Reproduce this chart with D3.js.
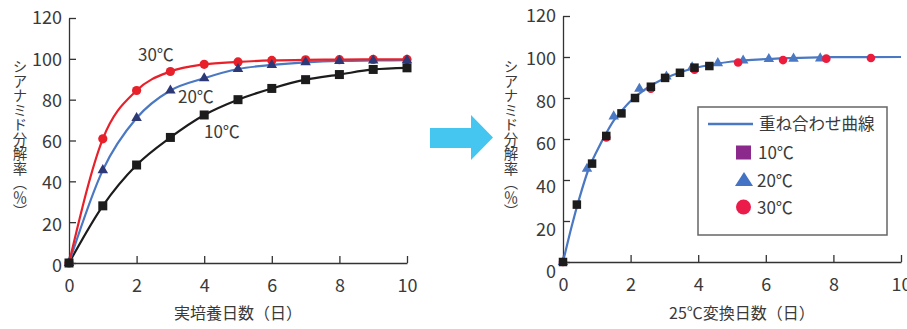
<!DOCTYPE html>
<html>
<head>
<meta charset="utf-8">
<script src="https://cdn.jsdelivr.net/npm/d3@7"></script>
<style>
  html, body { margin: 0; padding: 0; background: #fff; }
  svg { display: block; font-family: "Noto Sans CJK JP", "Noto Sans", sans-serif; }
</style>
</head>
<body>
<div id="chart"></div>
<script>
/* cyanamide decomposition: actual days vs. 25°C-converted days */

var days = [0, 1, 2, 3, 4, 5, 6, 7, 8, 9, 10];
var rate10 = [0, 28, 48, 61.5, 72.5, 80, 85.5, 89.8, 92.3, 94.8, 95.6];
var rate20 = [0, 45.5, 71, 84.5, 90.5, 95, 97, 98.3, 99, 99.2, 99.3];
var rate30 = [0, 60.8, 84.5, 93.8, 97.3, 98.5, 99.2, 99.5, 99.6, 99.7, 99.7];

/* positions on the 25°C-converted axis */
var conv10 = [0, 0.41, 0.86, 1.28, 1.73, 2.13, 2.60, 3.02, 3.46, 3.89, 4.33];
var conv20 = [0, 0.71, 1.50, 2.26, 3.06, 3.82, 4.58, 5.33, 6.09, 6.82, 7.61];
var conv30 = [0, 1.28, 2.60, 3.89, 5.18, 6.51, 7.79, 9.11];

/* overlaid (master) curve */
var fitX = [0, 0.25, 0.5, 0.75, 1, 1.25, 1.5, 1.75, 2, 2.5, 3, 3.5, 4, 4.5, 5, 6, 7, 8, 10];
var fitY = [0, 17, 32, 45, 54, 62, 69, 74, 78.5, 85, 89.5, 92.7, 95, 96.6, 97.8, 99, 99.6, 99.9, 100];

var xTicks = [0, 2, 4, 6, 8, 10];
var yTicks = [0, 20, 40, 60, 80, 100, 120];
var legendLabels = ['重ね合わせ曲線', '10℃', '20℃', '30℃'];
var yTitle = 'シアナミド分解率︵％︶';   // vertical-form brackets

var W = 907, H = 329;
var svg = d3.select('#chart').append('svg')
  .attr('width', W).attr('height', H);

var RED = '#e8202a', BLUE = '#4a78c2', NAVY = '#2d3877', BLACK = '#1c1c1c';
var INK = '#3a3a3a';

function zip(xs, ys) {
  return xs.map(function (x, i) { return [x, ys[i]]; });
}

function panel(x0, x1, y0, y1, yLabelX, xTitle, xTitleX, labelShift) {
  var x = d3.scaleLinear().domain([0, 10]).range([x0, x1]);
  var y = d3.scaleLinear().domain([0, 120]).range([y0, y1]);

  var gx = svg.append('g').attr('transform', 'translate(0,' + y0 + ')')
    .call(d3.axisBottom(x).tickValues(xTicks).tickSizeInner(-7).tickSizeOuter(0).tickPadding(16));
  var gy = svg.append('g').attr('transform', 'translate(' + x0 + ',0)')
    .call(d3.axisLeft(y).tickValues(yTicks).tickSizeInner(-7).tickSizeOuter(0).tickPadding(7));

  [gx, gy].forEach(function (g) {
    g.selectAll('path, line').attr('stroke', '#333').attr('stroke-width', 1.3);
    g.selectAll('text').attr('fill', INK).style('font-size', '18px')
      .style('font-family', '"Noto Sans CJK JP", sans-serif');
  });
  gy.selectAll('text').attr('dy', function (d) { return (0.32 + labelShift * (120 - d) / 120) + 'em'; });

  svg.append('text')
    .attr('x', yLabelX).attr('y', 139)
    .attr('text-anchor', 'middle')
    .style('writing-mode', 'vertical-rl')
    .style('text-orientation', 'upright')
    .style('font-size', '14.5px')
    .attr('fill', INK)
    .text(yTitle);

  svg.append('text')
    .attr('x', xTitleX).attr('y', 319)
    .attr('text-anchor', 'middle')
    .style('font-size', '16px')
    .attr('fill', INK)
    .text(xTitle);

  return { x: x, y: y };
}

function squares(sc, pts, size, color) {
  svg.append('g').selectAll('rect').data(pts).join('rect')
    .attr('x', function (d) { return sc.x(d[0]) - size / 2; })
    .attr('y', function (d) { return sc.y(d[1]) - size / 2; })
    .attr('width', size).attr('height', size)
    .attr('fill', color);
}

function circles(sc, pts, r, color) {
  svg.append('g').selectAll('circle').data(pts).join('circle')
    .attr('cx', function (d) { return sc.x(d[0]); })
    .attr('cy', function (d) { return sc.y(d[1]); })
    .attr('r', r).attr('fill', color);
}

function triangles(sc, pts, size, color) {
  var sym = d3.symbol().type(d3.symbolTriangle).size(size);
  svg.append('g').selectAll('path').data(pts).join('path')
    .attr('transform', function (d) { return 'translate(' + sc.x(d[0]) + ',' + sc.y(d[1]) + ')'; })
    .attr('d', sym).attr('fill', color);
}

function curve(sc, pts, color) {
  var line = d3.line()
    .x(function (d) { return sc.x(d[0]); })
    .y(function (d) { return sc.y(d[1]); })
    .curve(d3.curveMonotoneX);
  svg.append('path').datum(pts)
    .attr('d', line).attr('fill', 'none')
    .attr('stroke', color).attr('stroke-width', 2.2);
}

/* ── left: actual incubation days ── */
var L = panel(69, 407, 263, 18, 20, '実培養日数（日）', 238, 0.15);

curve(L, zip(days, rate10), BLACK);
curve(L, zip(days, rate20), BLUE);
curve(L, zip(days, rate30), RED);
circles(L, zip(days, rate30), 4.6, RED);
triangles(L, zip(days, rate20), 48, NAVY);
squares(L, zip(days, rate10), 9, BLACK);

[['30℃', 138, 61], ['20℃', 178, 103], ['10℃', 204, 138]].forEach(function (t) {
  svg.append('text').attr('x', t[1]).attr('y', t[2])
    .style('font-size', '17px').attr('fill', INK).text(t[0]);
});

/* ── arrow between panels ── */
svg.append('path')
  .attr('d', 'M430,128 H471 V115 L493,137.5 L471,160 V148 H430 Z')
  .attr('fill', '#45c6f1');

/* ── right: 25°C-converted days ── */
var R = panel(563, 901, 262, 16, 511, '25℃変換日数（日）', 742, 0.55);

curve(R, zip(fitX, fitY), BLUE);
triangles(R, zip(conv20, rate20), 48, BLUE);
circles(R, zip(conv30, rate30.slice(0, conv30.length)), 4.3, '#ec1c3c');
squares(R, zip(conv10, rate10), 8.5, BLACK);

/* ── legend ── */
var lg = svg.append('g');
lg.append('rect').attr('x', 698).attr('y', 107).attr('width', 189).attr('height', 128)
  .attr('fill', '#fff').attr('stroke', '#666').attr('stroke-width', 1.5);
lg.append('line').attr('x1', 708).attr('x2', 753).attr('y1', 124).attr('y2', 124)
  .attr('stroke', BLUE).attr('stroke-width', 2.4);
lg.append('rect').attr('x', 736).attr('y', 145.5).attr('width', 15).attr('height', 14)
  .attr('fill', '#8b2a8c');
lg.append('path').attr('d', 'M744,172 L753,186 L735,186 Z').attr('fill', '#4472c4');
lg.append('circle').attr('cx', 743.5).attr('cy', 207).attr('r', 7.5).attr('fill', '#ec1c4a');
[[759, 130], [758, 159], [757, 187], [757, 214]].forEach(function (p, i) {
  lg.append('text').attr('x', p[0]).attr('y', p[1])
    .style('font-size', i === 0 ? '16.5px' : '17px')
    .attr('fill', INK)
    .text(legendLabels[i]);
});
</script>
</body>
</html>
